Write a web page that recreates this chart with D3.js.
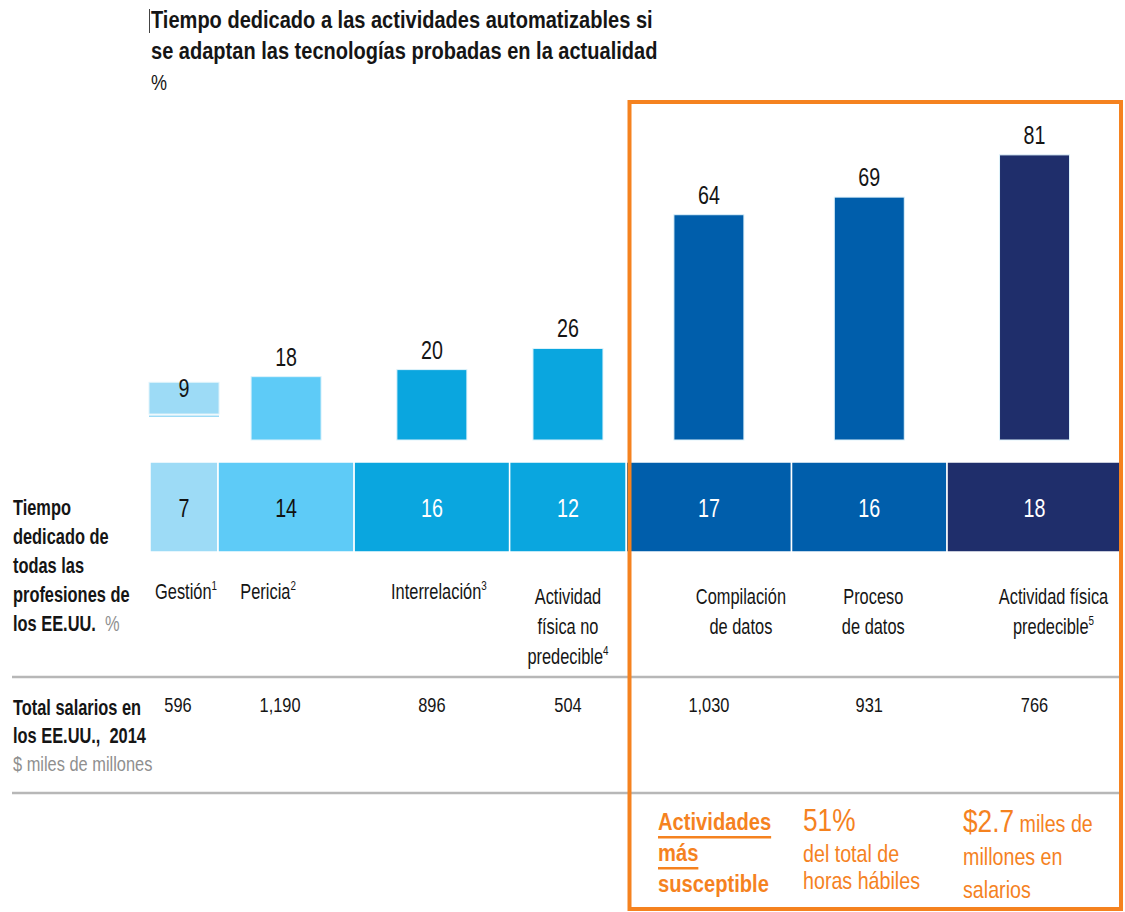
<!DOCTYPE html>
<html>
<head>
<meta charset="utf-8">
<script src="https://cdn.jsdelivr.net/npm/d3@7"></script>
<style>
  html, body { margin: 0; padding: 0; background: #fff; }
  svg { display: block; }
  text { font-family: "Liberation Sans", Arial, sans-serif; }
</style>
</head>
<body>
<svg id="chart" width="1125" height="912"></svg>
<script>
// data
const categories = ["Gestión", "Pericia", "Interrelación", "Actividad física no predecible",
  "Compilación de datos", "Proceso de datos", "Actividad física predecible"]
const labelLines = [["Gestión"], ["Pericia"], ["Interrelación"], ["Actividad", "física no", "predecible"],
  ["Compilación", "de datos"], ["Proceso", "de datos"], ["Actividad física", "predecible"]]
const footnotes = ["1", "2", "3", "4", "", "", "5"]
const automatable = [9, 18, 20, 26, 64, 69, 81]      // % of time automatable
const timeShare = [7, 14, 16, 12, 17, 16, 18]        // % of time of all US occupations
const wages = [596, 1190, 896, 504, 1030, 931, 766]  // $ bn, 2014
const titleLines = ["Tiempo dedicado a las actividades automatizables si",
  "se adaptan las tecnologías probadas en la actualidad"]

// look
const palette = ["#9ddbf6", "#5ecbf7", "#0aa6df", "#0aa6df", "#005eab", "#005eab", "#1f2e6b"]
const darkText = ["#111", "#111", "#fff", "#fff", "#fff", "#fff", "#fff"]
const orange = "#f5821f"
const ink = "#151515"
const grey = "#8f8f8f"
const narrow = 0.82 // no Arial Narrow installed, so squeeze Liberation Sans
const labelShift = [2, -18, 7, 0, 32, 4, 19] // label nudges against the segment centre
const gestionLift = 26 // the first bar floats above the baseline in the original

const svg = d3.select("#chart")

// a squeezed text anchored at x,y
function label(parent, x, y, size, sx, sy) {
  return parent.append("g")
    .attr("transform", `translate(${x},${y}) scale(${sx || narrow},${sy || 1})`)
    .append("text").attr("font-size", size)
}

const x = d3.scaleLinear().domain([0, d3.sum(timeShare)]).range([150, 1122])
const y = d3.scaleLinear().domain([0, 100]).range([440, 88])
const ends = d3.cumsum(timeShare)
const segs = timeShare.map((v, i) => ({
  i, v, x0: x(ends[i] - v), x1: x(ends[i]), cx: (x(ends[i] - v) + x(ends[i])) / 2
}))
const barW = 70

// title
const title = svg.append("g")
titleLines.forEach((ln, i) => {
  label(title, 151, 28 + i * 31, 24, 0.835)
    .attr("font-weight", "bold").attr("fill", ink).text(ln)
})
label(title, 151, 90, 22).attr("fill", ink).text("%")
title.append("line").attr("x1", 149.5).attr("x2", 149.5).attr("y1", 9).attr("y2", 33)
  .attr("stroke", "#444").attr("stroke-width", 1)

// grey rules
svg.selectAll("line.rule").data([677, 793]).enter().append("line")
  .attr("class", "rule")
  .attr("x1", 12).attr("x2", 1122).attr("y1", d => d).attr("y2", d => d)
  .attr("stroke", "#b7b7b7").attr("stroke-width", 2.5)

// automatable bars
const bars = svg.append("g")
bars.selectAll("rect").data(segs).enter().append("rect")
  .attr("x", d => d.cx - barW / 2)
  .attr("y", d => y(automatable[d.i]) - (d.i === 0 ? gestionLift : 0))
  .attr("width", barW)
  .attr("height", d => y(0) - y(automatable[d.i]))
  .attr("fill", d => palette[d.i])
  .attr("stroke", "#dff3fb").attr("stroke-width", 1)
// thin sliver under the floating first bar
bars.append("rect")
  .attr("x", segs[0].cx - barW / 2).attr("width", barW)
  .attr("y", y(0) - gestionLift + 1.5).attr("height", 1.5)
  .attr("fill", palette[0])
segs.forEach(d => {
  label(bars, d.cx, y(automatable[d.i]) - 11, 24, narrow, 1.05)
    .attr("text-anchor", "middle").attr("fill", ink).text(automatable[d.i])
})

// time-share band
const band = svg.append("g")
band.selectAll("rect").data(segs).enter().append("rect")
  .attr("x", d => d.x0).attr("width", d => d.x1 - d.x0)
  .attr("y", 462).attr("height", 90)
  .attr("fill", d => palette[d.i])
  .attr("stroke", "#fff").attr("stroke-width", 1.5)
segs.forEach(d => {
  label(band, d.cx, 517, 24, narrow, 1.1)
    .attr("text-anchor", "middle").attr("fill", darkText[d.i]).text(d.v)
})

// category labels
const cats = svg.append("g")
segs.forEach(d => {
  const lines = labelLines[d.i]
  const t = label(cats, d.cx + labelShift[d.i], lines.length > 1 ? 604 : 599, 20, narrow, 1.12)
    .attr("text-anchor", "middle").attr("fill", ink)
  lines.forEach((ln, k) => {
    t.append("tspan").attr("x", 0).attr("y", k * 30 / 1.12).text(ln)
    if (k === lines.length - 1 && footnotes[d.i]) {
      t.append("tspan").attr("font-size", 12).attr("dy", -8).text(footnotes[d.i])
    }
  })
})

// wages row
const fmt = d3.format(",")
const wageRow = svg.append("g")
segs.forEach(d => {
  label(wageRow, d.cx - (d.i < 2 ? 6 : 0), 712, 20, narrow, 1.05)
    .attr("text-anchor", "middle").attr("fill", ink).text(fmt(wages[d.i]))
})

// left row headers
const left = svg.append("g")
const head1 = ["Tiempo", "dedicado de", "todas las", "profesiones de", "los EE.UU."]
head1.forEach((ln, k) => {
  const t = label(left, 13, 515 + k * 29, 20, narrow, 1.08)
    .attr("font-weight", "bold").attr("fill", ink).text(ln)
  if (k === head1.length - 1) {
    t.append("tspan").attr("font-weight", "normal").attr("fill", grey).text("\u00a0\u00a0%")
  }
})
const head2 = ["Total salarios en", "los EE.UU.,\u00a0\u00a02014"]
head2.forEach((ln, k) => {
  label(left, 13, 715 + k * 28, 20, narrow, 1.08)
    .attr("font-weight", "bold").attr("fill", ink).text(ln)
})
label(left, 13, 771, 20, narrow, 1.05).attr("fill", grey).text("$ miles de millones")

// orange highlight box
svg.append("rect")
  .attr("x", 629.5).attr("y", 102).attr("width", 491.5).attr("height", 807)
  .attr("fill", "none").attr("stroke", orange).attr("stroke-width", 4)

const foot = svg.append("g").attr("fill", orange)
const susc = ["Actividades", "más", "susceptible"]
susc.forEach((ln, k) => {
  const t = label(foot, 658, 830 + k * 31, 24, 0.84)
    .attr("font-weight", "bold").text(ln)
  if (k < 2) {
    const w = t.node().getComputedTextLength() * 0.84
    foot.append("rect").attr("x", 658).attr("y", 830 + k * 31 + 6)
      .attr("width", w).attr("height", 2.5)
  }
})
label(foot, 803, 831, 32).text("51%")
;["del total de", "horas hábiles"].forEach((ln, k) => {
  label(foot, 803, 862 + k * 27, 24).text(ln)
})
const money = label(foot, 963, 832, 32)
money.append("tspan").text("$2.7")
money.append("tspan").attr("font-size", 24).text(" miles de")
;["millones en", "salarios"].forEach((ln, k) => {
  label(foot, 963, 865 + k * 33, 24).text(ln)
})
</script>
</body>
</html>
